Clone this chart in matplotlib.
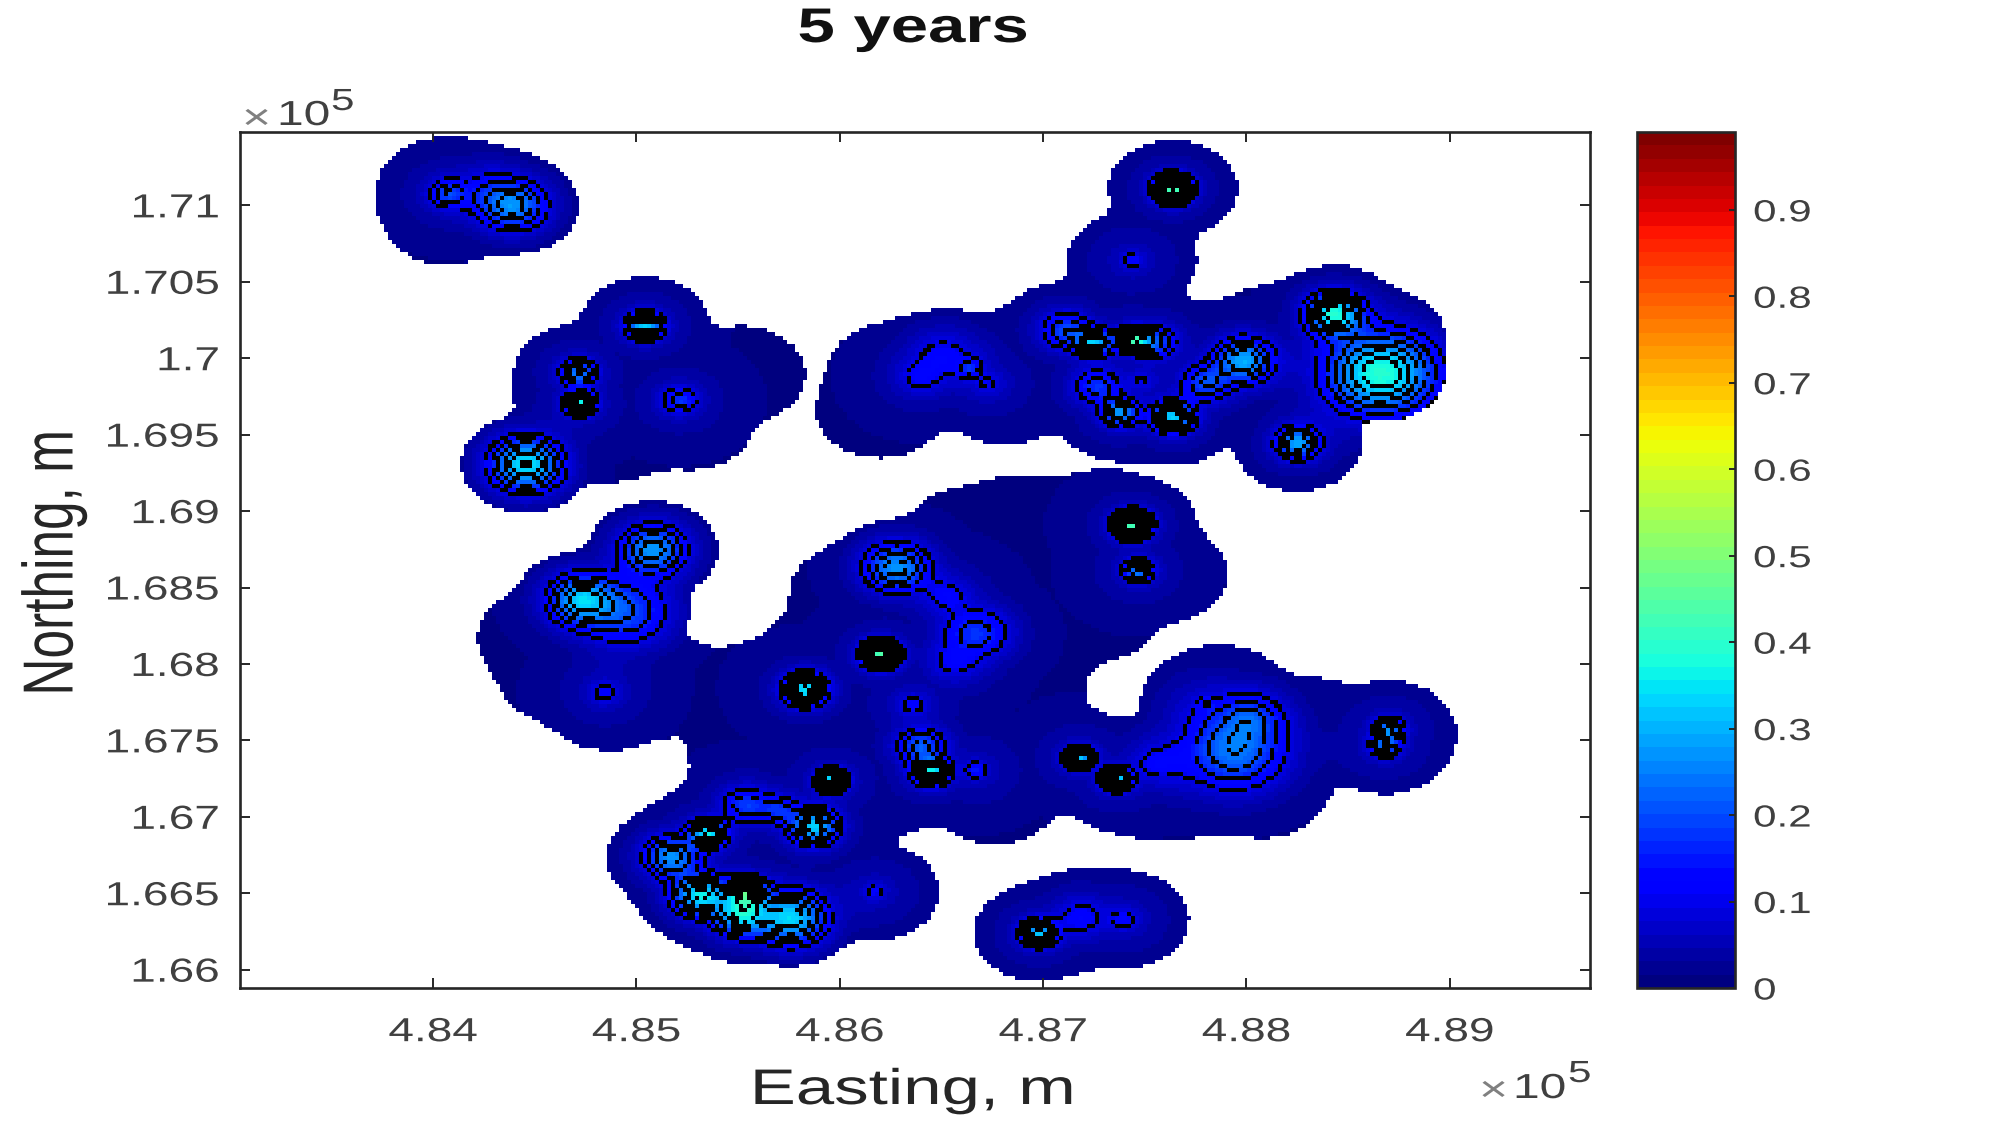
import numpy as np
import matplotlib
matplotlib.use("Agg")
import matplotlib.pyplot as plt
from matplotlib.colors import ListedColormap
from matplotlib.patheffects import AbstractPathEffect
from matplotlib.transforms import Affine2D

title = "5 years"
x_label = "Easting, m"
y_label = "Northing, m"
x_ticks = [4.84, 4.85, 4.86, 4.87, 4.88, 4.89]
x_tick_labels = ["4.84", "4.85", "4.86", "4.87", "4.88", "4.89"]
y_ticks = [1.66, 1.665, 1.67, 1.675, 1.68, 1.685, 1.69, 1.695, 1.70, 1.705, 1.71]
y_tick_labels = ["1.66", "1.665", "1.67", "1.675", "1.68", "1.685", "1.69", "1.695", "1.7", "1.705", "1.71"]
cbar_ticks = [0, 0.1, 0.2, 0.3, 0.4, 0.5, 0.6, 0.7, 0.8, 0.9]
cbar_tick_labels = ["0", "0.1", "0.2", "0.3", "0.4", "0.5", "0.6", "0.7", "0.8", "0.9"]

# hot spots, easting and northing in units of 10^5 m
peak_easting = [4.8406, 4.8439, 4.8425, 4.8504, 4.8471, 4.8472, 4.8521, 4.8445, 4.8508, 4.8472,
                4.8494, 4.8484, 4.8583, 4.8620, 4.8628, 4.8653, 4.8667, 4.8656, 4.8636, 4.8640,
                4.8645, 4.8667, 4.8596, 4.8554, 4.8587, 4.8535, 4.8517, 4.8531, 4.8554, 4.8551,
                4.8576, 4.8617, 4.8698, 4.8719, 4.8740, 4.8718, 4.8736, 4.8780, 4.8794, 4.8802,
                4.8871, 4.8744, 4.8747, 4.8744, 4.8764, 4.8664, 4.8651, 4.8639, 4.8867, 4.8844,
                4.8826, 4.8799, 4.8780, 4.8764, 4.8738, 4.8727, 4.8749, 4.8725, 4.8711, 4.8744,
                4.8755, 4.8570, 4.8755, 4.8673, 4.8869]
peak_northing = [1.7109, 1.7101, 1.7109, 1.7022, 1.6991, 1.6971, 1.6973, 1.6931, 1.6875, 1.6842,
                 1.6834, 1.6781, 1.6783, 1.6806, 1.6863, 1.6845, 1.6820, 1.6800, 1.6773, 1.6746,
                 1.6729, 1.6730, 1.6723, 1.6707, 1.6693, 1.6688, 1.6673, 1.6648, 1.6650, 1.6635,
                 1.6633, 1.6650, 1.6623, 1.6633, 1.6632, 1.6738, 1.6724, 1.6774, 1.6743, 1.6765,
                 1.6757, 1.6891, 1.6861, 1.7065, 1.7112, 1.6994, 1.7001, 1.6988, 1.6991, 1.7030,
                 1.6945, 1.6999, 1.6984, 1.6962, 1.6965, 1.6982, 1.6986, 1.7011, 1.7019, 1.7013,
                 1.7011, 1.6704, 1.6734, 1.6984, 1.6746]
peak_height = [0.13, 0.20, 0.06, 0.28, 0.20, 0.32, 0.12, 0.30, 0.22, 0.24,
               0.14, 0.07, 0.30, 0.38, 0.22, 0.06, 0.12, 0.05, 0.07, 0.16,
               0.30, 0.09, 0.30, 0.13, 0.28, 0.30, 0.22, 0.30, 0.30, 0.28,
               0.28, 0.06, 0.26, 0.07, 0.07, 0.26, 0.30, 0.05, 0.19, 0.09,
               0.20, 0.38, 0.20, 0.07, 0.40, 0.09, 0.07, 0.05, 0.34, 0.32,
               0.24, 0.24, 0.14, 0.28, 0.22, 0.12, 0.05, 0.26, 0.14, 0.34,
               0.16, 0.10, 0.05, 0.05, 0.18]
peak_width = [0.0006, 0.0011, 0.0012, 0.0006, 0.0006, 0.0005, 0.0006, 0.0012, 0.0011, 0.0011,
              0.0016, 0.0005, 0.0007, 0.0006, 0.0011, 0.0007, 0.0012, 0.0008, 0.0005, 0.0008,
              0.0006, 0.0004, 0.0005, 0.0008, 0.0008, 0.0006, 0.0009, 0.0009, 0.0006, 0.0009,
              0.0012, 0.0004, 0.0006, 0.0009, 0.0005, 0.0005, 0.0005, 0.0003, 0.0019, 0.0011,
              0.0005, 0.0006, 0.0005, 0.0004, 0.0006, 0.0004, 0.0012, 0.0007, 0.0019, 0.0009,
              0.0007, 0.0010, 0.0008, 0.0007, 0.0006, 0.0008, 0.0004, 0.0006, 0.0008, 0.0005,
              0.0007, 0.0006, 0.0008, 0.0005, 0.0005]

# extra points that only extend the covered area
cover_easting = [4.8406, 4.8406, 4.8551, 4.8626, 4.8620, 4.8689, 4.8683, 4.8814, 4.8815, 4.8867,
                 4.8727, 4.8689, 4.8664, 4.8759, 4.8727, 4.8695, 4.8689, 4.8607, 4.8595, 4.8563,
                 4.8519, 4.8488, 4.8463, 4.8453, 4.8557, 4.8595, 4.8664, 4.8689, 4.8676, 4.8620,
                 4.8752, 4.8770, 4.8815, 4.8789, 4.8833, 4.8488, 4.8526, 4.8695, 4.8783, 4.8808]
cover_northing = [1.7094, 1.7113, 1.6990, 1.6992, 1.6967, 1.7001, 1.6976, 1.7017, 1.6985, 1.7014,
                  1.6895, 1.6892, 1.6884, 1.6859, 1.6834, 1.6809, 1.6775, 1.6846, 1.6809, 1.6784,
                  1.6784, 1.6775, 1.6792, 1.6817, 1.6742, 1.6759, 1.6767, 1.6734, 1.6713, 1.6717,
                  1.6717, 1.6717, 1.6734, 1.6780, 1.6759, 1.6951, 1.6959, 1.6859, 1.7005, 1.6717]

contour_levels = np.arange(0.1, 0.7, 0.05)


class StretchText(AbstractPathEffect):
    # widens glyphs about the anchored end of the string
    def __init__(self, sx=1.0, sy=1.0, anchor="center"):
        super().__init__()
        self.sx = sx
        self.sy = sy
        self.anchor = anchor

    def draw_path(self, renderer, gc, tpath, affine, rgbFace=None):
        box = tpath.get_extents()
        x0 = {"left": 0.0, "center": 0.5 * (box.x0 + box.x1), "right": box.x1}[self.anchor]
        stretch = Affine2D().translate(-x0, 0).scale(self.sx, self.sy).translate(x0, 0)
        renderer.draw_path(gc, tpath, stretch + affine, rgbFace)


def wide(anchor="center"):
    return [StretchText(sx=1.38, anchor=anchor)]


plt.rcParams["font.family"] = ["Liberation Sans", "DejaVu Sans"]
W, H = 2000, 1125
fig = plt.figure(figsize=(W / 100, H / 100), dpi=100)


def box(left, top, right, bottom):
    return [left / W, 1 - bottom / H, (right - left) / W, (bottom - top) / H]


ax = fig.add_axes(box(240, 132, 1590, 988))
cax = fig.add_axes(box(1637, 132, 1735, 988))

xlim = (4.8305, 4.8969)
ylim = (1.6588, 1.7148)
nx, ny = 338, 214
xs = np.linspace(xlim[0], xlim[1], nx)
ys = np.linspace(ylim[0], ylim[1], ny)
xx, yy = np.meshgrid(xs, ys)

field = np.zeros_like(xx)
glow = np.zeros_like(xx)
for e, n, h, w in zip(peak_easting, peak_northing, peak_height, peak_width):
    r2 = (xx - e) ** 2 + (yy - n) ** 2
    field += h * np.exp(-r2 / (2 * w ** 2))
    glow = np.maximum(glow, np.exp(-r2 / 0.0024 ** 2))
field += 0.014 + 0.04 * glow

# covered area: smooth union of discs around every point
reach = np.zeros_like(xx)
for e, n in zip(peak_easting + cover_easting, peak_northing + cover_northing):
    r = np.hypot(xx - e, yy - n)
    reach += np.exp(-np.log(2) * (r / 0.0032) ** 8)
covered = reach > 0.5

# contour lines rasterised onto the grid, under one cell wide
gy, gx = np.gradient(field)
slope = np.hypot(gx, gy) + 1e-9
gap = np.abs(field[..., None] - contour_levels).min(axis=-1)
lines = (gap / slope < 0.42) & covered

extent = [xlim[0], xlim[1], ylim[0], ylim[1]]
jet64 = plt.get_cmap("jet", 64)
im = ax.imshow(np.ma.masked_where(~covered, field), origin="lower", extent=extent, aspect="auto",
               cmap=jet64, vmin=0, vmax=0.99, interpolation="nearest")
ax.imshow(np.ma.masked_where(~lines, lines.astype(float)), origin="lower", extent=extent, aspect="auto",
          cmap=ListedColormap(["black"]), interpolation="nearest")
ax.set_xlim(xlim)
ax.set_ylim(ylim)

ink = "#262626"
label_grey = "#404040"
for s in ax.spines.values():
    s.set_linewidth(1.9)
    s.set_color(ink)
ax.set_xticks(x_ticks)
ax.set_xticklabels(x_tick_labels)
ax.set_yticks(y_ticks)
ax.set_yticklabels(y_tick_labels)
ax.tick_params(axis="both", direction="in", top=True, right=True, length=7, width=1.4, color=ink)
ax.tick_params(axis="x", labelsize=24, labelcolor=label_grey, pad=21)
ax.tick_params(axis="y", labelsize=24, labelcolor=label_grey, pad=15)
for t in ax.get_xticklabels():
    t.set_path_effects(wide("center"))
for t in ax.get_yticklabels():
    t.set_path_effects(wide("right"))

cbar = fig.colorbar(im, cax=cax)
cbar.set_ticks(cbar_ticks)
cbar.set_ticklabels(cbar_tick_labels)
cbar.ax.tick_params(direction="in", length=4, width=1.4, color=ink, labelsize=22, labelcolor=label_grey, pad=13)
cbar.outline.set_linewidth(1.9)
cbar.outline.set_edgecolor(ink)
for t in cbar.ax.get_yticklabels():
    t.set_path_effects(wide("left"))


def put(px, py, s, **kw):
    return fig.text(px / W, 1 - py / H, s, **kw)


put(913, 42, title, fontsize=35, fontweight="bold", color="#111111", ha="center", va="baseline",
    path_effects=wide("center"))
put(913, 1104, x_label, fontsize=36, color=ink, ha="center", va="baseline", path_effects=wide("center"))
put(59, 563, y_label, fontsize=37, color=ink, rotation=90, ha="center", va="center",
    path_effects=[StretchText(sy=1.38, anchor="center")])

# axis multipliers
put(242, 129, "\u00d7", fontsize=26, color="#808080", ha="left", va="baseline", path_effects=wide("left"))
put(277, 125, "10", fontsize=25, color=label_grey, ha="left", va="baseline", path_effects=wide("left"))
put(331, 110, "5", fontsize=22, color=label_grey, ha="left", va="baseline", path_effects=wide("left"))
put(1479, 1101, "\u00d7", fontsize=26, color="#808080", ha="left", va="baseline", path_effects=wide("left"))
put(1513, 1098, "10", fontsize=25, color=label_grey, ha="left", va="baseline", path_effects=wide("left"))
put(1568, 1082, "5", fontsize=22, color=label_grey, ha="left", va="baseline", path_effects=wide("left"))

fig.savefig("out.png", dpi=100, facecolor="white")
